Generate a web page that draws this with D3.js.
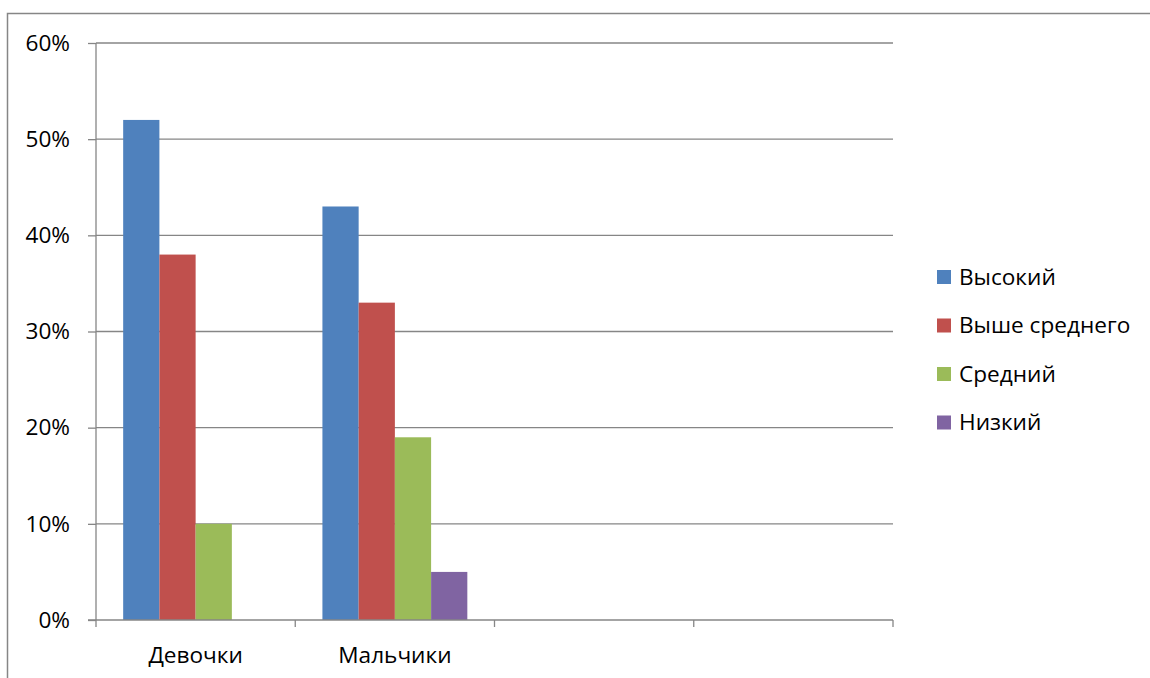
<!DOCTYPE html>
<html><head><meta charset="utf-8">
<script src="https://cdn.jsdelivr.net/npm/d3@7"></script>
<style>body{margin:0;background:#fff}svg{display:block}</style>
</head><body>
<script>
const categories = ["Девочки", "Мальчики", "", " "];
const seriesNames = ["Высокий", "Выше среднего", "Средний", "Низкий"];
const seriesColors = ["#4f81bd", "#c0504d", "#9bbb59", "#8064a2"];
const vysokiy = [0.52, 0.43, null, null];
const vysheSrednego = [0.38, 0.33, null, null];
const sredniy = [0.10, 0.19, null, null];
const nizkiy = [null, 0.05, null, null];
const yTicks = [0, 0.1, 0.2, 0.3, 0.4, 0.5, 0.6];

const seriesValues = [vysokiy, vysheSrednego, sredniy, nizkiy];
const W = 1150, H = 678;
const font = "Open Sans, sans-serif";
const fs = 22.6;
const svg = d3.select("body").append("svg").attr("width", W).attr("height", H);

// chart area border
svg.append("rect").attr("x", 7.5).attr("y", 13.5).attr("width", W + 10).attr("height", H + 10)
  .attr("fill", "none").attr("stroke", "#868686").attr("stroke-width", 1.5);

const x0 = d3.scaleBand().domain(categories).range([96, 893]).paddingInner(0).paddingOuter(0);
const x1 = d3.scaleBand().domain(seriesNames).range([0, x0.bandwidth()]).paddingInner(0).paddingOuter(0.75);
const y = d3.scaleLinear().domain([0, 0.6]).range([620, 43]);

// gridlines
svg.append("g").selectAll("line").data(yTicks.filter(d => d > 0)).join("line")
  .attr("x1", 96).attr("x2", 893).attr("y1", d => y(d)).attr("y2", d => y(d))
  .attr("stroke", "#868686").attr("stroke-width", 1.3);

// bars
const data = [];
categories.forEach((c, i) => seriesNames.forEach((s, j) => {
  const v = seriesValues[j][i];
  if (v != null) data.push({c, s, v, color: seriesColors[j]});
}));
svg.append("g").selectAll("rect").data(data).join("rect")
  .attr("x", d => x0(d.c) + x1(d.s)).attr("width", x1.bandwidth())
  .attr("y", d => y(d.v)).attr("height", d => y(0) - y(d.v))
  .attr("fill", d => d.color);

// y axis
const yAxis = d3.axisLeft(y).tickValues(yTicks).tickFormat(d3.format(".0%")).tickSize(8).tickPadding(18);
const ga = svg.append("g").attr("transform", "translate(96,0)").call(yAxis);
ga.select(".domain").attr("stroke", "#868686").attr("stroke-width", 1.3).attr("d", "M0,43V620");
ga.selectAll(".tick line").attr("stroke", "#868686").attr("stroke-width", 1.3);
ga.selectAll(".tick text").attr("font-family", font).attr("font-size", fs).attr("fill", "#000");

// x axis
const xg = svg.append("g").attr("transform", "translate(0,620)");
xg.append("line").attr("x1", 88).attr("x2", 893).attr("stroke", "#868686").attr("stroke-width", 1.3);
const bounds = categories.map(c => x0(c)).concat([x0(categories[categories.length - 1]) + x0.bandwidth()]);
xg.selectAll("line.t").data(bounds).join("line").attr("class", "t")
  .attr("x1", d => d).attr("x2", d => d).attr("y1", 0).attr("y2", 7)
  .attr("stroke", "#868686").attr("stroke-width", 1.3);
xg.selectAll("text").data(categories.filter(c => c.trim())).join("text")
  .attr("x", d => x0(d) + x0.bandwidth() / 2).attr("y", 43)
  .attr("text-anchor", "middle").attr("font-family", font).attr("font-size", fs).text(d => d);

// legend
const lg = svg.append("g").attr("transform", "translate(937,0)");
const lrows = lg.selectAll("g").data(seriesNames).join("g")
  .attr("transform", (d, i) => `translate(0,${277 + i * 48.5})`);
lrows.append("rect").attr("x", 0).attr("y", -7).attr("width", 14).attr("height", 14)
  .attr("fill", (d, i) => seriesColors[i]);
lrows.append("text").attr("x", 22).attr("y", 0).attr("dy", "0.35em")
  .attr("font-family", font).attr("font-size", fs).text(d => d);
</script>
</body></html>
